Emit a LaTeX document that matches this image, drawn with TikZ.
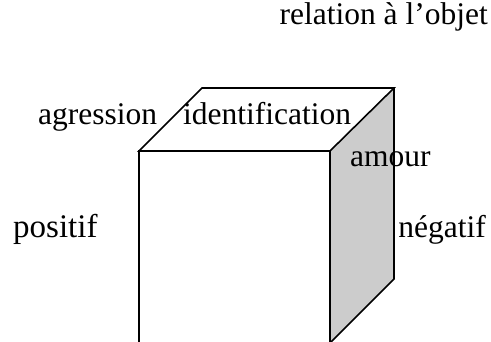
\documentclass[tikz,border=0pt]{standalone}
\usepackage{fontspec}
\setmainfont{Liberation Serif}
\begin{document}
\begin{tikzpicture}[x=1pt,y=-1pt,
  edge/.style={draw=black,line width=1.6pt,line join=miter},
  lbl/.style={inner sep=0pt,anchor=base west,font=\fontsize{31.5}{37}\selectfont}]
\useasboundingbox (0,0) rectangle (491,342);
\begin{scope}
\clip (0,0) rectangle (491,342);
% right face
\fill[gray!40] (330,151) -- (394,88) -- (394,279) -- (330,343) -- cycle;
% top face
\draw[edge] (139,151) -- (202,88) -- (394,88) -- (330,151) -- cycle;
% right face outline
\draw[edge] (394,88) -- (394,279) -- (330,343);
% front face
\draw[edge] (139,346) -- (139,151) -- (330,151) -- (330,346);
\end{scope}
\node[lbl,anchor=base east] (rel) at (488,25) {relation à l’objet};
\node[lbl] (agr) at (38,125) {agression};
\node[lbl] (ide) at (183,125) {identification};
\node[lbl] (amo) at (350,167) {amour};
\node[lbl,font=\fontsize{33}{39}\selectfont] (pos) at (13,238) {positif};
\node[lbl,anchor=base east] (neg) at (486,238) {négatif};
\end{tikzpicture}
\end{document}
